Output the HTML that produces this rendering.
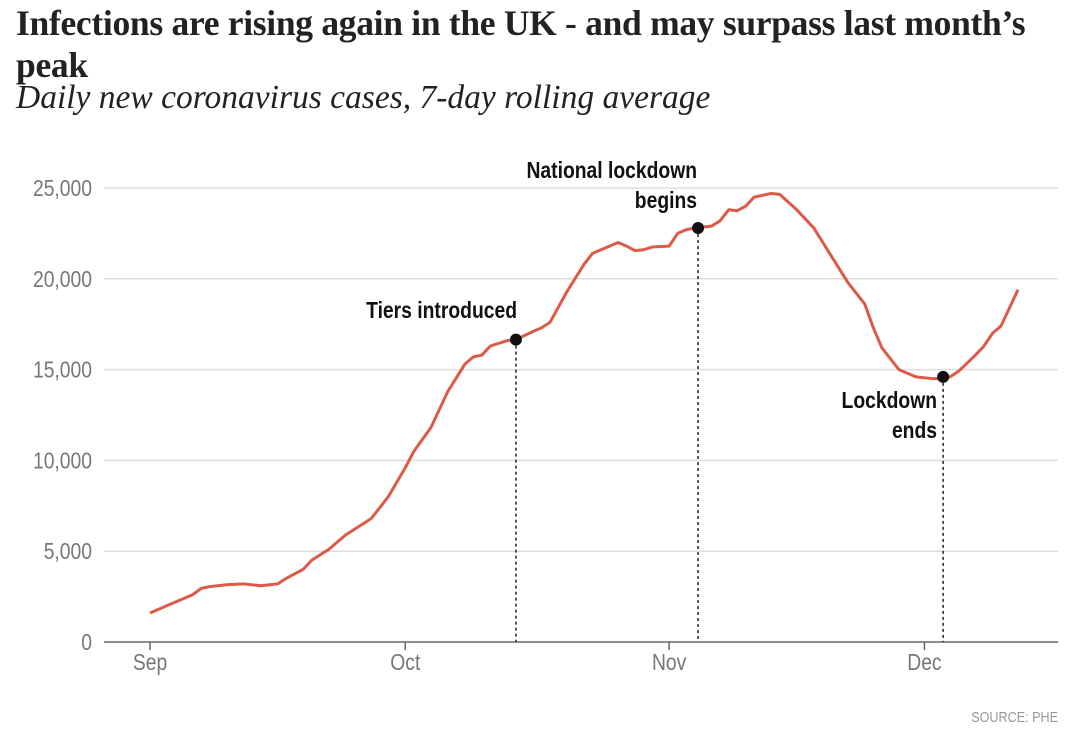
<!DOCTYPE html>
<html><head><meta charset="utf-8"><style>
body{margin:0;background:#fff;width:1080px;height:755px;overflow:hidden}
h1{position:absolute;left:16px;top:2px;margin:0;font:bold 35.5px/42px "Liberation Serif",serif;color:#222;width:1050px;letter-spacing:-0.3px}
h2{position:absolute;left:16px;top:80px;margin:0;font:italic 33.5px/36px "Liberation Serif",serif;color:#222;font-weight:normal}
svg{position:absolute;left:0;top:0}
</style></head><body>
<h1>Infections are rising again in the UK - and may surpass last month’s peak</h1>
<h2>Daily new coronavirus cases, 7-day rolling average</h2>
<svg id="c" width="1080" height="755"></svg>
<script>
const days=[0,2,4,5,6,7,9,11,13,15,16,18,19,21,23,25,26,28,30,31,33,35,37,38,39,40,42,43,45,46,47,49,51,52,54,55,56,57,58,59,61,62,63,64,66,67,68,69,70,71,72,73,74,76,78,80,82,84,85,86,88,90,92,93,94,95,97,98,99,100,102];
const cases=[1600,2000,2400,2600,2950,3050,3150,3200,3100,3200,3500,4000,4500,5100,5900,6500,6800,8000,9600,10500,11800,13800,15300,15700,15800,16300,16600,16650,17100,17300,17600,19300,20800,21400,21800,22000,21800,21550,21600,21750,21800,22500,22700,22800,22900,23200,23800,23750,24000,24500,24600,24700,24650,23800,22800,21300,19800,18600,17300,16200,15000,14600,14500,14500,14600,14900,15800,16300,17000,17400,19400];
const yTicks=[0,5000,10000,15000,20000,25000];
const monthLabels=["Sep","Oct","Nov","Dec"];
const monthDays=[0,30,61,91];
const annDays=[43,64.4,93.2];
const annVals=[16650,22800,14600];
const annText=[["Tiers introduced"],["National lockdown","begins"],["Lockdown","ends"]];
const NS="http://www.w3.org/2000/svg",svg=document.getElementById('c');
const x=d=>150+d*8.51, y=v=>642-v*(454/25000);
function mk(t,a,p){const e=document.createElementNS(NS,t);for(const k in a)e.setAttribute(k,a[k]);(p||svg).appendChild(e);return e;}
const F='"Liberation Sans Narrow","Liberation Sans",sans-serif';
function txt(s,tx,ty,anchor,size,weight,fill,name){
 const g=mk('g',{transform:`translate(${tx},${ty}) scale(0.84,1)`});
 const t=mk('text',{x:0,y:0,'text-anchor':anchor,'font-family':F,'font-size':size,'font-weight':weight,fill:fill},g);
 t.textContent=s;
 
 
}
yTicks.forEach(v=>{
 const l=mk('line',{x1:104,x2:1058,y1:y(v),y2:y(v),stroke:v?'#ddd':'#666','stroke-width':1.5});
 
 
 txt(v.toLocaleString('en-US'),92,y(v)+8,'end',23,'normal','#777','y-tick-label');
});
monthLabels.forEach((m,i)=>{
 mk('line',{x1:x(monthDays[i]),x2:x(monthDays[i]),y1:642,y2:650,stroke:'#666','stroke-width':1.5});
 txt(m,x(monthDays[i]),670,'middle',23,'normal','#777','x-tick-label');
});
annDays.forEach((d,i)=>{
 const l=mk('line',{x1:x(d),x2:x(d),y1:y(annVals[i]),y2:642,stroke:'#222','stroke-width':1.5,'stroke-dasharray':'3,3'});
 
 
});
const p=mk('path',{d:days.map((d,i)=>(i?'L':'M')+x(d)+','+y(cases[i])).join(''),fill:'none',stroke:'#dc5a48','stroke-width':3,'stroke-linejoin':'round'});


const pos=[[517,318],[697,178],[937,408]];
annDays.forEach((d,i)=>{
 const c=mk('circle',{cx:x(d),cy:y(annVals[i]),r:6,fill:'#111'});
 
 
 const [tx,ty]=pos[i];
 annText[i].forEach((s,j)=>txt(s,tx,ty+j*30,'end',23,'bold','#111','annotation-label'));
});
txt('SOURCE: PHE',1058,722,'end',15,'normal','#999','source-note');
</script>
</body></html>
